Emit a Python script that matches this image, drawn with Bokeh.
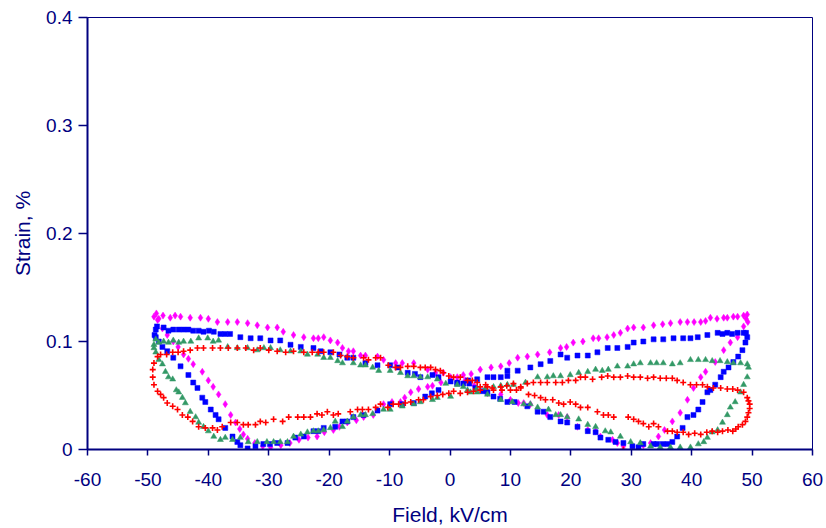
from bokeh.plotting import figure
from bokeh.models import Range1d, FixedTicker
from bokeh.embed import file_html
from bokeh.resources import INLINE

# ---------------- data (field kV/cm, strain %) ----------------
x_ticks = [-60, -50, -40, -30, -20, -10, 0, 10, 20, 30, 40, 50, 60]
x_tick_labels = ["-60", "-50", "-40", "-30", "-20", "-10", "0", "10", "20", "30", "40", "50", "60"]
y_ticks = [0, 0.1, 0.2, 0.3, 0.4]
y_tick_labels = ["0", "0.1", "0.2", "0.3", "0.4"]

magenta_points = [
    (-49.0, 0.123), (-48.6, 0.126), (-48.2, 0.121), (-47.5, 0.124), (-46.3, 0.122), (-45.5, 0.124),
    (-44.6, 0.123), (-43.0, 0.122), (-41.3, 0.122), (-40.0, 0.121), (-38.5, 0.118), (-36.8, 0.118),
    (-35.2, 0.118), (-33.5, 0.117), (-31.9, 0.115), (-30.2, 0.113), (-28.6, 0.113), (-27.6, 0.109),
    (-25.9, 0.106), (-24.2, 0.104), (-22.6, 0.103), (-21.8, 0.103), (-20.9, 0.104), (-19.8, 0.101),
    (-18.6, 0.099), (-17.8, 0.094), (-16.8, 0.091), (-16.0, 0.091), (-14.8, 0.087), (-14.0, 0.087),
    (-12.0, 0.086), (-11.0, 0.083), (-9.0, 0.080), (-7.9, 0.080), (-6.0, 0.080), (-3.7, 0.074),
    (-2.4, 0.071), (-1.1, 0.071), (0.1, 0.067), (1.2, 0.067), (2.5, 0.064), (4.0, 0.059),
    (6.2, 0.052), (8.4, 0.051), (10.0, 0.046), (11.3, 0.043), (12.2, 0.043), (13.3, 0.042),
    (16.1, 0.032), (18.0, 0.032), (19.4, 0.030), (21.1, 0.021), (22.8, 0.018), (24.1, 0.017),
    (24.9, 0.012), (26.9, 0.009), (27.7, 0.006), (28.7, 0.003), (30.2, 0.003), (32.0, 0.004),
    (33.2, 0.006), (34.5, 0.012), (35.5, 0.018), (36.8, 0.026), (38.1, 0.034), (39.3, 0.046),
    (40.3, 0.057), (41.5, 0.067), (42.3, 0.072), (43.9, 0.081), (45.3, 0.092), (46.4, 0.099),
    (47.6, 0.104), (48.6, 0.114), (49.2, 0.125), (49.3, 0.118), (49.0, 0.121), (48.6, 0.124),
    (47.6, 0.123), (46.9, 0.123), (45.9, 0.122), (45.3, 0.122), (44.2, 0.121), (43.1, 0.122),
    (42.3, 0.119), (41.5, 0.118), (40.4, 0.118), (39.3, 0.118), (38.1, 0.118), (36.5, 0.117),
    (35.2, 0.116), (33.7, 0.115), (32.0, 0.113), (30.4, 0.113), (29.4, 0.112), (28.2, 0.108),
    (27.1, 0.106), (26.0, 0.104), (24.6, 0.103), (23.7, 0.103), (22.0, 0.100), (20.4, 0.099),
    (19.3, 0.095), (18.3, 0.094), (16.5, 0.090), (14.5, 0.088), (12.8, 0.086), (11.2, 0.085),
    (9.8, 0.080), (8.4, 0.077), (6.8, 0.076), (5.0, 0.074), (3.5, 0.070), (2.2, 0.069),
    (-1.5, 0.062), (-2.9, 0.059), (-3.7, 0.058), (-5.2, 0.056), (-6.5, 0.053), (-7.5, 0.048),
    (-8.2, 0.044), (-9.6, 0.044), (-11.0, 0.042), (-12.7, 0.032), (-14.3, 0.030), (-15.5, 0.027),
    (-17.0, 0.025), (-18.3, 0.021), (-19.3, 0.018), (-20.8, 0.016), (-22.0, 0.012), (-23.5, 0.011),
    (-25.0, 0.009), (-26.5, 0.006), (-28.0, 0.004), (-29.7, 0.002), (-31.0, 0.003), (-32.3, 0.006),
    (-33.5, 0.010), (-34.2, 0.014), (-34.8, 0.019), (-35.5, 0.025), (-36.3, 0.032), (-37.2, 0.042),
    (-38.3, 0.051), (-39.2, 0.058), (-40.0, 0.064), (-41.0, 0.072), (-42.5, 0.079), (-43.3, 0.084),
    (-44.1, 0.088), (-45.0, 0.095), (-45.8, 0.100), (-46.8, 0.106), (-47.6, 0.112), (-48.4, 0.120),
]

blue_points = [
    (-48.7, 0.111), (-48.9, 0.106), (-48.5, 0.114), (-47.4, 0.113), (-46.6, 0.110), (-45.8, 0.111),
    (-44.9, 0.111), (-44.1, 0.111), (-43.3, 0.111), (-42.5, 0.110), (-41.6, 0.110), (-40.8, 0.109),
    (-39.9, 0.110), (-39.1, 0.109), (-38.0, 0.107), (-37.2, 0.107), (-36.4, 0.107), (-34.7, 0.104),
    (-33.0, 0.103), (-31.4, 0.103), (-29.7, 0.101), (-28.1, 0.101), (-26.4, 0.097), (-24.7, 0.095),
    (-22.6, 0.094), (-21.4, 0.091), (-19.8, 0.090), (-18.3, 0.088), (-17.0, 0.085), (-16.0, 0.085),
    (-14.0, 0.080), (-12.0, 0.078), (-9.9, 0.078), (-8.7, 0.076), (-7.0, 0.071), (-5.8, 0.070),
    (-4.9, 0.067), (-2.9, 0.069), (-1.9, 0.067), (0.1, 0.063), (1.2, 0.061), (2.2, 0.061),
    (3.2, 0.061), (4.2, 0.057), (5.4, 0.054), (6.2, 0.053), (7.2, 0.049), (8.3, 0.047),
    (9.5, 0.044), (10.7, 0.044), (12.8, 0.040), (14.5, 0.035), (15.5, 0.035), (16.6, 0.030),
    (18.3, 0.026), (19.4, 0.025), (21.1, 0.021), (22.8, 0.017), (24.1, 0.016), (24.9, 0.011),
    (26.2, 0.009), (27.4, 0.007), (28.7, 0.006), (30.2, 0.003), (31.2, 0.002), (32.0, 0.005),
    (33.7, 0.005), (34.3, 0.005), (35.2, 0.005), (36.0, 0.005), (36.8, 0.007), (37.6, 0.012),
    (38.5, 0.020), (39.3, 0.030), (40.3, 0.032), (41.1, 0.037), (41.8, 0.044), (42.6, 0.053),
    (43.1, 0.055), (43.9, 0.060), (44.8, 0.067), (45.3, 0.072), (46.1, 0.076), (46.9, 0.081),
    (47.7, 0.086), (48.4, 0.092), (48.9, 0.099), (49.2, 0.104), (49.0, 0.108), (48.6, 0.108),
    (47.6, 0.108), (46.7, 0.107), (45.9, 0.108), (45.1, 0.107), (44.3, 0.108), (42.6, 0.106),
    (41.0, 0.104), (39.8, 0.103), (38.6, 0.103), (37.0, 0.103), (35.3, 0.102), (33.7, 0.102),
    (32.0, 0.100), (30.4, 0.099), (29.4, 0.095), (27.7, 0.094), (26.1, 0.094), (24.4, 0.090),
    (22.8, 0.087), (21.1, 0.087), (19.4, 0.085), (18.3, 0.088), (16.6, 0.082), (15.0, 0.079),
    (13.3, 0.076), (11.2, 0.073), (9.5, 0.073), (9.5, 0.068), (8.4, 0.067), (7.2, 0.067),
    (6.2, 0.067), (4.5, 0.065), (3.0, 0.064), (1.2, 0.062), (-1.9, 0.055), (-3.0, 0.052),
    (-4.1, 0.049), (-6.0, 0.043), (-7.9, 0.042), (-9.9, 0.042), (-12.0, 0.036), (-14.3, 0.032),
    (-16.0, 0.030), (-17.0, 0.026), (-17.8, 0.026), (-19.0, 0.021), (-20.9, 0.020), (-21.8, 0.017),
    (-22.6, 0.017), (-24.2, 0.012), (-25.6, 0.011), (-26.9, 0.006), (-28.6, 0.006), (-29.8, 0.005),
    (-30.9, 0.005), (-32.2, 0.003), (-33.5, 0.001), (-34.7, 0.004), (-35.2, 0.007), (-36.0, 0.012),
    (-37.2, 0.020), (-38.3, 0.028), (-38.8, 0.032), (-39.6, 0.037), (-40.5, 0.044), (-41.0, 0.048),
    (-41.8, 0.057), (-42.5, 0.062), (-43.3, 0.069), (-44.6, 0.077), (-45.8, 0.085), (-46.8, 0.091),
    (-47.6, 0.095), (-48.2, 0.100), (-48.7, 0.104),
]

green_points = [
    (-49.0, 0.097), (-48.7, 0.102), (-48.2, 0.099), (-47.4, 0.100), (-46.6, 0.099), (-45.8, 0.101),
    (-44.9, 0.099), (-44.1, 0.100), (-42.9, 0.100), (-41.6, 0.103), (-40.1, 0.103), (-39.2, 0.100),
    (-38.3, 0.101), (-36.8, 0.095), (-35.2, 0.094), (-33.5, 0.094), (-31.9, 0.092), (-30.8, 0.094),
    (-29.7, 0.094), (-28.1, 0.092), (-26.4, 0.091), (-24.7, 0.091), (-23.6, 0.088), (-21.9, 0.088),
    (-20.9, 0.085), (-19.8, 0.085), (-18.6, 0.082), (-17.8, 0.080), (-16.0, 0.080), (-14.8, 0.078),
    (-14.0, 0.078), (-12.8, 0.076), (-11.8, 0.073), (-9.9, 0.073), (-8.2, 0.071), (-7.0, 0.068),
    (-6.0, 0.068), (-4.9, 0.067), (-3.7, 0.067), (-2.1, 0.065), (-0.7, 0.061), (1.2, 0.060),
    (2.2, 0.058), (3.4, 0.053), (4.5, 0.053), (6.2, 0.051), (8.4, 0.046), (10.3, 0.044),
    (12.2, 0.042), (13.3, 0.042), (14.5, 0.039), (16.3, 0.037), (17.5, 0.032), (18.3, 0.032),
    (19.4, 0.030), (21.3, 0.028), (22.8, 0.023), (24.1, 0.021), (25.7, 0.017), (26.6, 0.016),
    (28.2, 0.012), (29.9, 0.007), (31.5, 0.006), (33.2, 0.003), (34.8, 0.002), (36.5, 0.002),
    (38.1, 0.002), (39.8, 0.002), (41.1, 0.005), (42.0, 0.007), (42.6, 0.011), (43.4, 0.016),
    (44.3, 0.018), (45.1, 0.025), (45.9, 0.032), (46.4, 0.039), (47.2, 0.044), (48.1, 0.053),
    (48.6, 0.060), (49.2, 0.067), (49.4, 0.076), (49.2, 0.079), (48.1, 0.080), (46.9, 0.080),
    (45.9, 0.081), (44.7, 0.082), (43.4, 0.082), (42.3, 0.083), (41.1, 0.083), (39.8, 0.083),
    (38.1, 0.080), (36.8, 0.079), (35.3, 0.080), (34.2, 0.080), (33.2, 0.080), (31.5, 0.080),
    (30.4, 0.079), (29.4, 0.077), (27.7, 0.077), (26.2, 0.074), (25.2, 0.073), (24.1, 0.074),
    (22.8, 0.072), (21.3, 0.071), (19.9, 0.069), (18.3, 0.068), (17.1, 0.068), (16.1, 0.067),
    (14.5, 0.067), (12.5, 0.062), (10.5, 0.060), (9.5, 0.060), (8.4, 0.059), (7.2, 0.058),
    (5.9, 0.057), (4.4, 0.056), (2.9, 0.055), (0.1, 0.049), (-2.1, 0.048), (-2.9, 0.046),
    (-4.9, 0.044), (-6.0, 0.042), (-7.9, 0.040), (-9.9, 0.037), (-11.0, 0.037), (-12.8, 0.033),
    (-14.0, 0.032), (-14.8, 0.032), (-16.0, 0.030), (-17.0, 0.026), (-17.8, 0.021), (-19.0, 0.026),
    (-19.8, 0.020), (-20.9, 0.018), (-21.8, 0.017), (-22.6, 0.017), (-23.6, 0.016), (-24.7, 0.014),
    (-25.9, 0.012), (-26.9, 0.007), (-28.1, 0.007), (-29.2, 0.007), (-30.3, 0.007), (-31.9, 0.007),
    (-33.4, 0.007), (-34.7, 0.011), (-36.0, 0.009), (-37.2, 0.011), (-38.0, 0.009), (-39.1, 0.012),
    (-40.0, 0.017), (-40.8, 0.021), (-41.6, 0.025), (-42.1, 0.030), (-43.0, 0.035), (-43.8, 0.043),
    (-44.3, 0.048), (-44.9, 0.053), (-45.3, 0.055), (-45.9, 0.065), (-46.6, 0.067), (-47.1, 0.072),
    (-47.6, 0.079), (-48.2, 0.083), (-48.7, 0.090), (-49.0, 0.094),
]

red_points = [
    (-49.0, 0.080), (-48.4, 0.086), (-47.9, 0.088), (-46.9, 0.088), (-45.9, 0.090), (-45.0, 0.090),
    (-44.1, 0.091), (-43.0, 0.092), (-41.8, 0.094), (-40.8, 0.094), (-39.3, 0.094), (-38.0, 0.094),
    (-36.7, 0.094), (-35.2, 0.094), (-33.8, 0.094), (-32.5, 0.092), (-31.4, 0.094), (-30.0, 0.092),
    (-28.6, 0.091), (-27.2, 0.090), (-25.9, 0.091), (-24.2, 0.090), (-22.8, 0.090), (-21.8, 0.090),
    (-20.9, 0.090), (-19.3, 0.090), (-18.1, 0.087), (-17.0, 0.086), (-16.0, 0.085), (-14.3, 0.085),
    (-13.5, 0.083), (-12.3, 0.085), (-11.5, 0.085), (-10.2, 0.078), (-9.0, 0.076), (-8.2, 0.076),
    (-7.0, 0.077), (-6.0, 0.077), (-4.9, 0.076), (-4.1, 0.076), (-3.2, 0.076), (-2.4, 0.074),
    (-1.6, 0.073), (-1.1, 0.071), (-0.2, 0.068), (0.6, 0.067), (1.7, 0.067), (2.9, 0.064),
    (3.7, 0.064), (4.5, 0.062), (5.0, 0.058), (5.9, 0.060), (6.2, 0.058), (7.2, 0.055),
    (8.6, 0.055), (10.0, 0.055), (11.0, 0.055), (11.7, 0.057), (13.0, 0.051), (14.0, 0.050),
    (15.0, 0.048), (15.8, 0.046), (17.0, 0.046), (18.0, 0.043), (18.8, 0.042), (19.9, 0.044),
    (20.8, 0.042), (21.6, 0.039), (22.8, 0.039), (24.4, 0.035), (25.4, 0.032), (26.2, 0.032),
    (27.1, 0.030), (28.7, 0.000), (29.5, 0.030), (30.4, 0.028), (31.2, 0.026), (32.0, 0.024),
    (32.9, 0.021), (33.7, 0.024), (34.5, 0.021), (36.0, 0.017), (36.8, 0.017), (37.6, 0.016),
    (38.6, 0.016), (39.5, 0.014), (40.5, 0.015), (41.5, 0.014), (42.5, 0.016), (43.4, 0.017),
    (44.3, 0.016), (45.1, 0.017), (46.0, 0.018), (46.8, 0.017), (47.3, 0.019), (47.7, 0.021),
    (48.4, 0.023), (48.9, 0.026), (49.2, 0.030), (49.4, 0.034), (49.6, 0.038), (49.6, 0.042),
    (49.4, 0.045), (49.2, 0.048), (48.6, 0.053), (47.6, 0.055), (46.8, 0.056), (45.9, 0.056),
    (44.8, 0.057), (43.6, 0.057), (42.6, 0.058), (41.8, 0.060), (40.8, 0.060), (39.8, 0.060),
    (38.6, 0.062), (37.6, 0.064), (36.8, 0.066), (35.8, 0.066), (34.8, 0.066), (33.7, 0.067),
    (32.7, 0.066), (31.5, 0.067), (30.4, 0.067), (29.4, 0.068), (28.2, 0.067), (27.1, 0.067),
    (26.1, 0.068), (25.1, 0.067), (23.6, 0.065), (22.4, 0.067), (21.6, 0.067), (20.8, 0.064),
    (19.6, 0.064), (18.6, 0.062), (17.5, 0.062), (16.1, 0.062), (15.0, 0.062), (13.8, 0.062),
    (12.8, 0.061), (11.7, 0.058), (10.5, 0.061), (9.4, 0.059), (8.4, 0.058), (7.0, 0.057),
    (5.0, 0.055), (3.9, 0.054), (2.9, 0.053), (1.7, 0.052), (0.6, 0.054), (-0.2, 0.052),
    (-1.2, 0.051), (-2.1, 0.050), (-3.2, 0.049), (-4.4, 0.046), (-5.2, 0.046), (-6.5, 0.044),
    (-7.4, 0.043), (-8.5, 0.042), (-9.4, 0.042), (-10.3, 0.039), (-11.5, 0.042), (-12.3, 0.039),
    (-13.5, 0.037), (-14.5, 0.037), (-15.3, 0.037), (-16.5, 0.035), (-18.5, 0.033), (-19.3, 0.032),
    (-20.3, 0.035), (-21.2, 0.032), (-22.0, 0.033), (-23.1, 0.030), (-24.2, 0.030), (-25.2, 0.030),
    (-26.7, 0.030), (-27.7, 0.026), (-29.2, 0.028), (-30.5, 0.025), (-31.4, 0.026), (-32.2, 0.023),
    (-33.4, 0.023), (-34.2, 0.023), (-35.2, 0.025), (-36.3, 0.025), (-37.7, 0.021), (-38.5, 0.018),
    (-39.3, 0.020), (-40.5, 0.020), (-41.6, 0.021), (-42.6, 0.026), (-43.4, 0.030), (-44.3, 0.032),
    (-45.1, 0.037), (-45.9, 0.040), (-46.8, 0.043), (-47.4, 0.048), (-47.9, 0.051), (-48.4, 0.054),
    (-49.0, 0.060), (-49.2, 0.067), (-49.2, 0.074),
]

# ---------------- styling ----------------
NAVY = "#000080"
FONT = "Liberation Sans"

p = figure(
    width=826, height=528,
    x_range=Range1d(-60, 60), y_range=Range1d(0, 0.4),
    output_backend="svg", toolbar_location=None,
    min_border_left=87, min_border_right=14, min_border_top=17, min_border_bottom=78,
    background_fill_color="white", border_fill_color="white",
)
p.outline_line_color = NAVY
p.outline_line_width = 1
p.grid.visible = False


def unzip(points):
    return [pt[0] for pt in points], [pt[1] for pt in points]


mx, my = unzip(magenta_points)
bx, by = unzip(blue_points)
gx, gy = unzip(green_points)
rx, ry = unzip(red_points)

p.scatter(mx, my, marker="diamond", size=7, fill_color="#FF00FF", line_color="#FF00FF", line_width=0.5)
p.scatter(bx, by, marker="square", size=5, fill_color="#0000FF", line_color="#0000FF", line_width=0.5)
p.scatter(gx, gy, marker="triangle", size=6, fill_color="#339966", line_color="#339966", line_width=0.5)
p.scatter(rx, ry, marker="cross", size=6, line_color="#FF0000", line_width=1.6)

for ax in (p.xaxis[0], p.yaxis[0]):
    ax.axis_line_color = NAVY
    ax.axis_line_width = 2
    ax.major_tick_line_color = NAVY
    ax.major_tick_line_width = 1.5
    ax.minor_tick_line_color = None
    ax.major_tick_in = 0
    ax.major_label_text_color = NAVY
    ax.major_label_text_font = FONT
    ax.major_label_text_font_size = "19px"
    ax.axis_label_text_color = NAVY
    ax.axis_label_text_font = FONT
    ax.axis_label_text_font_size = "21px"
    ax.axis_label_text_font_style = "normal"

p.xaxis.ticker = FixedTicker(ticks=x_ticks)
p.xaxis.major_label_overrides = {t: lab for t, lab in zip(x_ticks, x_tick_labels)}
p.xaxis.major_tick_out = 6
p.xaxis.major_label_standoff = 17
p.xaxis.axis_label = "Field, kV/cm"
p.xaxis.axis_label_standoff = 14

p.yaxis.ticker = FixedTicker(ticks=y_ticks)
p.yaxis.major_label_overrides = {t: lab for t, lab in zip(y_ticks, y_tick_labels)}
p.yaxis.major_tick_out = 9
p.yaxis.major_label_standoff = 6
p.yaxis.axis_label = "Strain, %"
p.yaxis.axis_label_standoff = 9

open("out.html", "w").write(file_html(p, INLINE))
